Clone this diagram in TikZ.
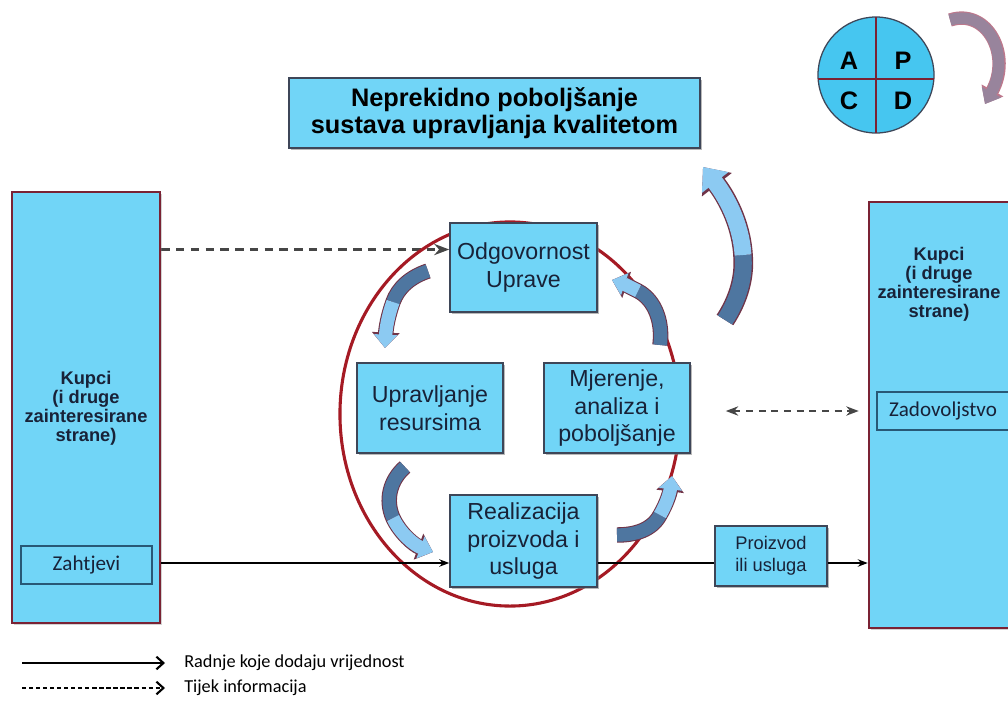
\documentclass[tikz,border=0pt]{standalone}
\usepackage{fontspec}
\setmainfont{Liberation Sans}
\newfontfamily\calibrifont{Carlito}
\usetikzlibrary{arrows.meta,calc,shadows,backgrounds}
\tikzset {>=Stealth}

\definecolor{boxblue}{RGB}{113,213,247}
\definecolor{pdcablue}{RGB}{70,198,240}
\definecolor{boxedge}{RGB}{62,70,88}
\definecolor{bigedge}{RGB}{122,34,52}
\definecolor{noteedge}{RGB}{40,88,118}
\definecolor{ringred}{RGB}{165,26,36}
\definecolor{arrowrim}{RGB}{112,52,72}
\definecolor{arrowdark}{RGB}{78,118,160}
\definecolor{arrowlight}{RGB}{140,202,242}
\definecolor{pdcaarrow}{RGB}{152,132,156}
\definecolor{pdcarim}{RGB}{190,120,140}
\definecolor{infogray}{RGB}{70,70,70}
\definecolor{inktext}{RGB}{24,34,56}

\tikzset{
  procbox/.style={draw=boxedge,line width=1.1pt,fill=boxblue,align=center,inner sep=2pt,text=inktext,
    font=\fontsize{16.5}{19.5}\selectfont,
    drop shadow={shadow xshift=1.3pt,shadow yshift=-1.3pt,opacity=.55}},
  bigbox/.style={draw=bigedge,line width=1.8pt,fill=boxblue,
    drop shadow={shadow xshift=1.3pt,shadow yshift=-1.3pt,opacity=.35}},
  bigtext/.style={align=center,inner sep=0pt,text=inktext,font=\bfseries\fontsize{13}{13.6}\selectfont},
  notebox/.style={draw=noteedge,line width=.9pt,fill=boxblue,inner sep=0pt,text=inktext,font=\calibrifont\fontsize{15}{17}\selectfont},
  workline/.style={line width=.9pt},
  infoline/.style={draw=infogray,line width=1.7pt,dash pattern=on 6pt off 4.5pt},
  legtext/.style={anchor=west,inner sep=0pt,font=\calibrifont\fontsize{13}{15}\selectfont},
  cyclerim/.style={draw=arrowrim,line width=11pt,-{Triangle[length=11pt,width=19pt]}},
  cycledark/.style={draw=arrowdark,line width=9.5pt},
  cyclelight/.style={draw=arrowlight,line width=9.5pt,-{Triangle[length=9.5pt,width=16pt]}},
  pdcaletter/.style={font=\bfseries\fontsize{18}{18}\selectfont}
}

\begin{document}
\begin{tikzpicture}[x=0.025cm,y=-0.025cm]
\useasboundingbox (0,0) rectangle (1008,706);
\clip (0,0) rectangle (1008,706);

% the ring round the four processes
\draw[ringred,line width=2.2pt] (510,414) ellipse [x radius=4.25cm,y radius=4.8cm];

% customers, left and right
\node[bigbox,minimum width=3.7cm,minimum height=10.775cm] (kupciL) at (86,407.5) {};
\node[bigtext] (kupciLtxt) at (86,408) {Kupci\\(i druge\\zainteresirane\\strane)};
\node[notebox,minimum width=3.275cm,minimum height=0.95cm] (zaht) at (86.5,565) {Zahtjevi};
\node[bigbox,minimum width=3.575cm,minimum height=10.65cm] (kupciR) at (940.5,415) {};
\node[bigtext] (kupciRtxt) at (939,284) {Kupci\\(i druge\\zainteresirane\\strane)};
\node[notebox,minimum width=3.3cm,minimum height=0.95cm] (zad) at (943,411) {Zadovoljstvo};

% title and processes
\node[procbox,text=black,font=\bfseries\fontsize{18}{19.5}\selectfont,minimum width=10.275cm,minimum height=1.75cm] (title) at (494.5,113) {Neprekidno poboljšanje\\sustava upravljanja kvalitetom};
\node[procbox,minimum width=3.675cm,minimum height=2.225cm] (odg) at (523.5,267.5) {Odgovornost\\Uprave};
\node[procbox,minimum width=3.65cm,minimum height=2.25cm] (resu) at (430,408) {Upravljanje\\resursima};
\node[procbox,minimum width=3.65cm,minimum height=2.25cm] (mjer) at (617,408) {Mjerenje,\\analiza i\\poboljšanje};
\node[procbox,minimum width=3.675cm,minimum height=2.3cm] (real) at (523.5,541) {Realizacija\\proizvoda i\\usluga};
\node[procbox,font=\fontsize{13}{15.5}\selectfont,minimum width=2.8cm,minimum height=1.5cm] (proiz) at (771,556) {Proizvod\\ili usluga};

% flows
\coordinate (infoY) at ($(odg.west)+(0,-18)$);
\begin{pgfonlayer}{background}
\draw[infoline,->] (kupciL.east |- infoY) -- (infoY);
\end{pgfonlayer}
\coordinate (workY) at ($(real.west)+(0,22)$);
\draw[workline,->] (kupciL.east |- workY) -- (workY);
\draw[workline] (real.east |- workY) -- (proiz.west |- workY);
\draw[workline,->] (proiz.east |- workY) -- (kupciR.west |- workY);
\coordinate (satR) at ($(kupciR.west |- zad.west)+(-9,0)$);
\coordinate (satL) at ($(mjer.east |- satR)+(35,0)$);
\draw[infoline,line width=1.3pt,dash pattern=on 5pt off 4pt,<->] (satL) -- (satR);

% curved arrows of the cycle
\draw[cyclerim] (428,271) .. controls (410,277) and (398,288) .. (393,302) .. controls (388,316) and (386,328) .. (385,348);
\draw[cycledark] (428,271) .. controls (410,277) and (398,288) .. (393,302);
\draw[cyclelight] (393,302) .. controls (388,316) and (386,328) .. (385,348);
\draw[cyclerim] (405,467) .. controls (390,480) and (385,500) .. (393,518) .. controls (400,533) and (414,545) .. (433,552);
\draw[cycledark] (405,467) .. controls (390,480) and (385,500) .. (393,518);
\draw[cyclelight] (393,518) .. controls (400,533) and (414,545) .. (433,552);
\draw[cyclerim] (617,535) .. controls (635,535) and (652,530) .. (660,515) .. controls (667,503) and (670,492) .. (672,476);
\draw[cycledark] (617,535) .. controls (635,535) and (652,530) .. (660,515);
\draw[cyclelight] (660,515) .. controls (667,503) and (670,492) .. (672,476);
\draw[cyclerim] (660,345) .. controls (663,322) and (655,300) .. (638,291) .. controls (630,287) and (624,284) .. (612,280);
\draw[cycledark] (660,345) .. controls (663,322) and (655,300) .. (638,291);
\draw[cyclelight] (638,291) .. controls (630,287) and (624,284) .. (612,280);

% arrow up to the title
\draw[cyclerim,line width=14pt,-{Triangle[length=16pt,width=26pt]}] (725,320) .. controls (738,300) and (745,278) .. (743,255) .. controls (741,222) and (725,195) .. (703,167);
\draw[cycledark,line width=12pt] (725,320) .. controls (738,300) and (745,278) .. (743,255);
\draw[cyclelight,line width=12pt,-{Triangle[length=14pt,width=23pt]}] (743,255) .. controls (741,222) and (725,195) .. (703,167);

% PDCA
\fill[pdcablue,draw=boxedge,line width=.9pt] (876,75) circle [radius=1.45cm];
\draw[bigedge,line width=.8pt] (876,17) -- (876,133);
\draw[bigedge,line width=.8pt] (818,79) -- (934,79);
\node[pdcaletter] (pA) at (849,61) {A};
\node[pdcaletter] (pP) at (903,61) {P};
\node[pdcaletter] (pC) at (849,101) {C};
\node[pdcaletter] (pD) at (903,101) {D};
\draw[draw=pdcarim,line width=9.5pt,-{Triangle[length=11pt,width=17pt]}] (950,20) .. controls (987,8) and (1012,55) .. (985,104);
\draw[draw=pdcaarrow,line width=8pt,-{Triangle[length=9.5pt,width=15pt]}] (950,20) .. controls (987,8) and (1012,55) .. (985,104);

% legend
\coordinate (legA) at (22,663);
\coordinate (legB) at (165,663);
\draw[workline,-{Straight Barb[length=5pt,width=9pt,line width=1.5pt]}] (legA) -- (legB);
\node[legtext] (legwork) at (184,663) {Radnje koje dodaju vrijednost};
\coordinate (legC) at (22,688);
\coordinate (legD) at (165,688);
\draw[line width=.8pt,dash pattern=on 3pt off 2pt,-{Straight Barb[length=5pt,width=9pt,line width=1.5pt]}] (legC) -- (legD);
\node[legtext] (leginfo) at (184,688) {Tijek informacija};
\end{tikzpicture}
\end{document}
